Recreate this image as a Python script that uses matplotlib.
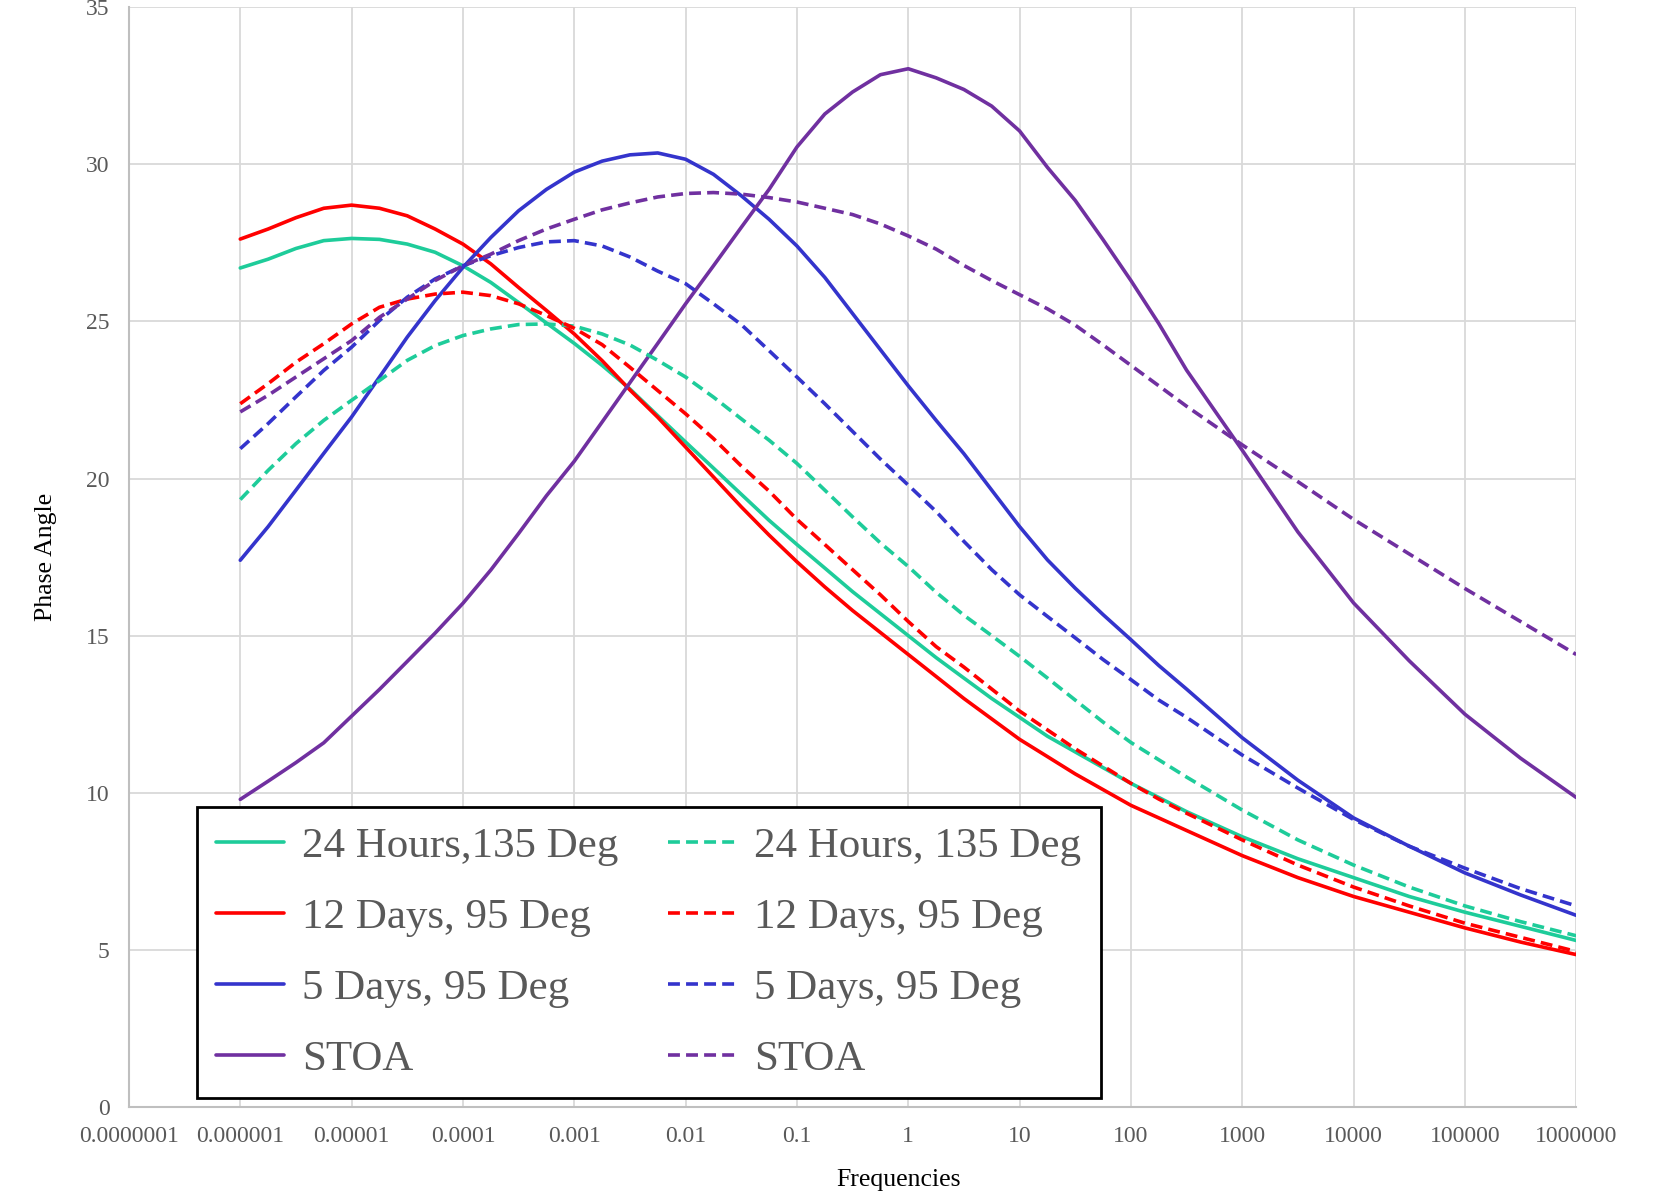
import numpy as np
import matplotlib
matplotlib.use("Agg")
import matplotlib.pyplot as plt

# frequencies: quarter decades up to 10^2.5, then half decades
freqs = [1e-6, 1.78e-6, 3.16e-6, 5.62e-6, 1e-5, 1.78e-5, 3.16e-5, 5.62e-5,
         1e-4, 1.78e-4, 3.16e-4, 5.62e-4, 1e-3, 1.78e-3, 3.16e-3, 5.62e-3,
         1e-2, 1.78e-2, 3.16e-2, 5.62e-2, 0.1, 0.178, 0.316, 0.562,
         1, 1.78, 3.16, 5.62, 10, 17.8, 31.6, 56.2,
         100, 178, 316, 1000, 3160, 1e4, 3.16e4, 1e5, 3.16e5, 1e6]

h24_solid = [26.7, 26.98, 27.32, 27.57, 27.64, 27.61, 27.46, 27.2,
             26.77, 26.24, 25.6, 24.95, 24.3, 23.6, 22.85, 22.0,
             21.16, 20.33, 19.5, 18.67, 17.9, 17.15, 16.4, 15.7,
             15.0, 14.3, 13.65, 13.0, 12.4, 11.8, 11.3, 10.8,
             10.3, 9.85, 9.4, 8.6, 7.9, 7.3, 6.7, 6.2, 5.75, 5.3]
d12_solid = [27.62, 27.94, 28.3, 28.6, 28.7, 28.6, 28.36, 27.94,
             27.46, 26.83, 26.08, 25.35, 24.6, 23.75, 22.82, 21.95,
             21.0, 20.05, 19.1, 18.2, 17.35, 16.55, 15.8, 15.1,
             14.4, 13.7, 13.0, 12.35, 11.7, 11.15, 10.6, 10.1,
             9.6, 9.2, 8.8, 8.0, 7.3, 6.7, 6.2, 5.7, 5.25, 4.85]
d5_solid = [17.4, 18.47, 19.63, 20.8, 21.96, 23.23, 24.5, 25.66,
            26.72, 27.67, 28.52, 29.2, 29.75, 30.1, 30.3, 30.36,
            30.16, 29.68, 29.0, 28.25, 27.4, 26.4, 25.25, 24.1,
            22.95, 21.85, 20.79, 19.63, 18.47, 17.41, 16.51, 15.67,
            14.87, 14.05, 13.3, 11.75, 10.4, 9.2, 8.3, 7.45, 6.75, 6.1]
stoa_solid = [9.79, 10.37, 10.96, 11.59, 12.44, 13.29, 14.18, 15.08,
              16.03, 17.09, 18.25, 19.45, 20.55, 21.8, 23.05, 24.3,
              25.56, 26.77, 27.99, 29.2, 30.55, 31.6, 32.3, 32.85,
              33.04, 32.75, 32.38, 31.85, 31.06, 29.9, 28.85, 27.6,
              26.3, 24.93, 23.45, 20.9, 18.3, 16.04, 14.2, 12.5, 11.1, 9.85]

h24_dash = [19.33, 20.26, 21.11, 21.85, 22.49, 23.12, 23.76, 24.23,
            24.55, 24.76, 24.9, 24.92, 24.85, 24.6, 24.25, 23.76,
            23.23, 22.59, 21.9, 21.22, 20.48, 19.63, 18.78, 17.95,
            17.2, 16.38, 15.65, 15.0, 14.34, 13.65, 12.95, 12.25,
            11.6, 11.05, 10.5, 9.45, 8.5, 7.7, 7.0, 6.4, 5.9, 5.45]
d12_dash = [22.38, 23.02, 23.7, 24.29, 24.92, 25.45, 25.71, 25.87,
            25.93, 25.82, 25.56, 25.19, 24.78, 24.26, 23.54, 22.8,
            22.06, 21.27, 20.4, 19.6, 18.7, 17.9, 17.1, 16.3,
            15.45, 14.65, 14.0, 13.3, 12.6, 12.0, 11.4, 10.85,
            10.3, 9.8, 9.35, 8.5, 7.7, 7.0, 6.4, 5.85, 5.4, 4.95]
d5_dash = [20.95, 21.75, 22.6, 23.44, 24.18, 25.03, 25.77, 26.35,
           26.77, 27.09, 27.35, 27.53, 27.57, 27.4, 27.05, 26.6,
           26.2, 25.56, 24.9, 24.07, 23.23, 22.38, 21.5, 20.62,
           19.79, 18.95, 18.0, 17.1, 16.3, 15.61, 14.93, 14.24,
           13.6, 12.95, 12.4, 11.2, 10.15, 9.15, 8.3, 7.6, 6.95, 6.4]
stoa_dash = [22.12, 22.65, 23.23, 23.81, 24.39, 25.13, 25.71, 26.3,
             26.77, 27.14, 27.57, 27.94, 28.25, 28.55, 28.77, 28.96,
             29.07, 29.1, 29.05, 28.94, 28.8, 28.6, 28.4, 28.1,
             27.72, 27.3, 26.78, 26.3, 25.85, 25.4, 24.88, 24.25,
             23.6, 22.95, 22.3, 21.07, 19.9, 18.7, 17.6, 16.5, 15.45, 14.4]

solid_labels = ["24 Hours,135 Deg", "12 Days, 95 Deg", "5 Days, 95 Deg", "STOA"]
dash_labels = ["24 Hours, 135 Deg", "12 Days, 95 Deg", "5 Days, 95 Deg", "STOA"]
colors = ["#1ECC9A", "#FF0000", "#3434CC", "#7030A0"]

xticks = [1e-7, 1e-6, 1e-5, 1e-4, 1e-3, 1e-2, 1e-1, 1, 10, 100, 1000, 1e4, 1e5, 1e6]
xticklabels = ["0.0000001", "0.000001", "0.00001", "0.0001", "0.001", "0.01", "0.1",
               "1", "10", "100", "1000", "10000", "100000", "1000000"]

plt.rcParams['font.family'] = ['Liberation Serif', 'DejaVu Serif']

fig = plt.figure(figsize=(16.79, 11.91), dpi=100)
ax = fig.add_axes([0.0768, 0.0705, 0.862, 0.9235])

solids = [h24_solid, d12_solid, d5_solid, stoa_solid]
dashes = [h24_dash, d12_dash, d5_dash, stoa_dash]
handles = []
for i in range(4):
    l, = ax.plot(freqs, solids[i], color=colors[i], lw=2.6, label=solid_labels[i],
                 solid_joinstyle='round', solid_capstyle='round')
    handles.append(l)
for i in range(4):
    l, = ax.plot(freqs, dashes[i], color=colors[i], lw=2.6, dashes=(3.3, 1.7),
                 label=dash_labels[i])
    handles.append(l)

ax.set_xscale('log')
ax.set_xlim(1e-7, 1e6)
ax.set_ylim(0, 35)
ax.set_xticks(xticks)
ax.set_xticklabels(xticklabels)
ax.xaxis.set_minor_locator(matplotlib.ticker.NullLocator())
ax.set_yticks(np.arange(0, 36, 5))
ax.tick_params(axis='both', length=0, labelsize=17, colors='#595959')
ax.tick_params(axis='x', pad=14)
ax.tick_params(axis='y', pad=14)

ax.grid(True, color='#D9D9D9', lw=1.3)
ax.set_axisbelow(True)
for s in ['top', 'right']:
    ax.spines[s].set_visible(False)
for s in ['left', 'bottom']:
    ax.spines[s].set_color('#BFBFBF')
    ax.spines[s].set_linewidth(1.5)

ax.set_xlabel("Frequencies", fontsize=18.5, color='#000000')
ax.xaxis.set_label_coords(0.532, -0.056)
ax.set_ylabel("Phase Angle", fontsize=18.5, color='#000000')
ax.yaxis.set_label_coords(-0.050, 0.5)

leg = ax.legend(handles=handles, ncol=2, loc='lower left',
                bbox_to_anchor=(0.047, 0.008), borderaxespad=0,
                fontsize=31, handlelength=1.58, handletextpad=0.42,
                columnspacing=1.15, labelspacing=0.74, borderpad=0.45,
                fancybox=False, framealpha=1, edgecolor='black')
leg.get_frame().set_linewidth(2)
for t in leg.get_texts():
    t.set_color('#595959')

fig.savefig("out.png", dpi=100)
